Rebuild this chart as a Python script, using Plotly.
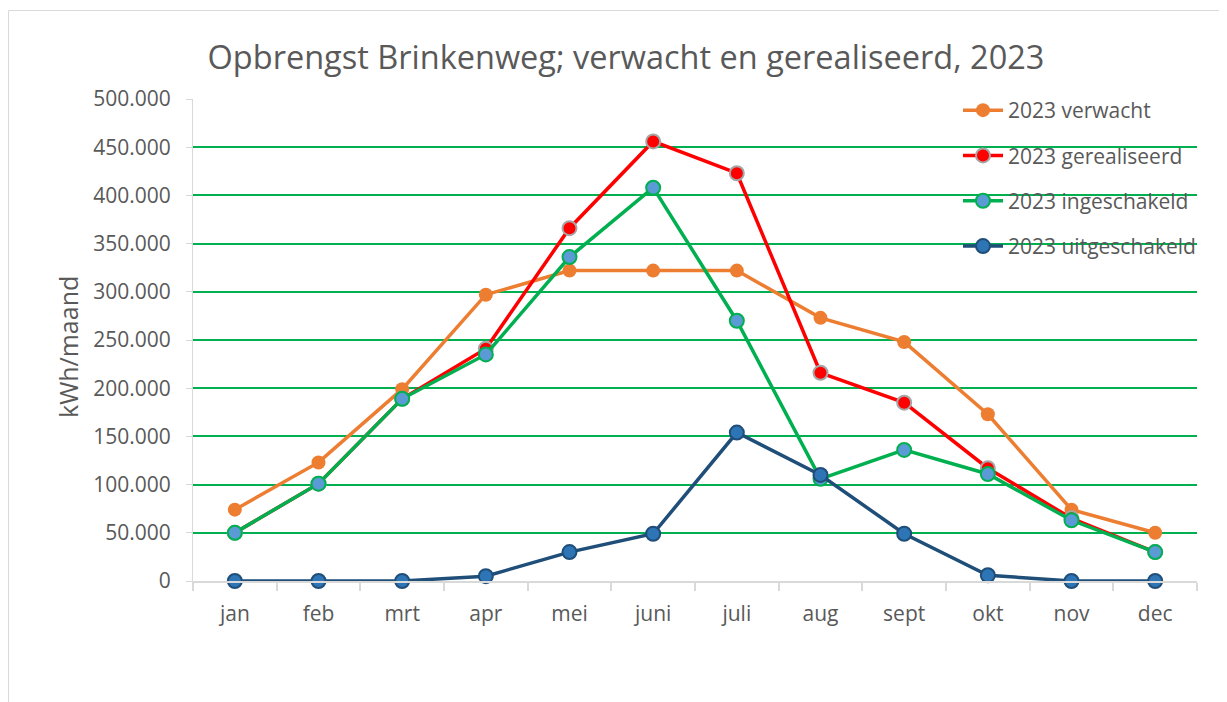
import plotly.graph_objects as go

months = ["jan", "feb", "mrt", "apr", "mei", "juni", "juli", "aug", "sept", "okt", "nov", "dec"]
verwacht = [74000, 123000, 199000, 297000, 322000, 322000, 322000, 273000, 248000, 173000, 74000, 50000]
gerealiseerd = [50000, 101000, 189000, 241000, 366000, 456000, 423000, 216000, 185000, 117000, 65000, 30000]
ingeschakeld = [50000, 101000, 189000, 235000, 336000, 408000, 270000, 106000, 136000, 111000, 63000, 30000]
uitgeschakeld = [0, 0, 0, 5000, 30000, 49000, 154000, 110000, 49000, 6000, 0, 0]
y_ticks = [0, 50000, 100000, 150000, 200000, 250000, 300000, 350000, 400000, 450000, 500000]

# page has an 8px body margin; work in page coordinates and convert
OFF = 8
W, H = 1227 - OFF, 702 - OFF
PL, PT, PR, PB = 193, 99, 1197, 581  # plot area in page coords
L, T = PL - OFF, PT - OFF
R = W - (PR - OFF)
B = H - (PB - OFF)
FONT = "Open Sans"
TXT = "#595959"

series = [
    ("2023 verwacht", verwacht, "#ED7D31", "#ED7D31", "#ED7D31", 0),
    ("2023 gerealiseerd", gerealiseerd, "#FF0000", "#FF0000", "#A6A6A6", 2),
    ("2023 ingeschakeld", ingeschakeld, "#00B050", "#5B9BD5", "#00B050", 2),
    ("2023 uitgeschakeld", uitgeschakeld, "#1F4E79", "#2E75B6", "#1F4E79", 2),
]

fig = go.Figure()
for i, (name, vals, lc, fc, mc, mw) in enumerate(series):
    fig.add_trace(go.Scatter(
        x=months, y=vals, name=name, mode="lines+markers",
        line=dict(color=lc, width=3.5),
        marker=dict(size=14, color=fc, line=dict(color=mc, width=mw)),
        legendgroup=f"g{i}", cliponaxis=False,
    ))

pw = PR - PL
ph = PB - PT


def px(xp):
    return (xp - PL) / pw


def py(yp):
    return (PB - yp) / ph


fig.update_layout(
    width=W, height=H,
    margin=dict(l=L, r=R, t=T, b=B, autoexpand=False),
    paper_bgcolor="white", plot_bgcolor="white",
    separators=",.",
    font=dict(family=FONT, color=TXT, size=21),
    title=dict(text="Opbrengst Brinkenweg; verwacht en gerealiseerd, 2023",
               x=(626 - OFF) / W, xanchor="center", xref="container",
               y=1 - (58 - OFF) / H, yanchor="middle", yref="container",
               font=dict(size=32.5, color=TXT, family=FONT)),
    showlegend=True,
    legend=dict(x=px(958), xanchor="left", y=py(90), yanchor="top",
                bgcolor="rgba(0,0,0,0)", font=dict(size=21, color=TXT),
                tracegroupgap=15, itemwidth=40),
    xaxis=dict(type="category", tickson="boundaries", showgrid=False,
               showline=True, linecolor="#D9D9D9", linewidth=2,
               ticks="outside", ticklen=8, tickcolor="#D9D9D9", tickwidth=2,
               ticklabelstandoff=13, tickfont=dict(size=21, color=TXT),
               range=[-0.5, 11.5]),
    yaxis=dict(range=[0, 500000], tickvals=y_ticks, tickformat=",.0f",
               showgrid=True, gridcolor="#00B050", gridwidth=2,
               zeroline=False, showline=True, linecolor="#D9D9D9", linewidth=1,
               ticks="outside", ticklen=6, tickcolor="#D9D9D9",
               ticklabelstandoff=11, tickfont=dict(size=21, color=TXT)),
    annotations=[dict(text="kWh/maand", textangle=-90, xref="paper", yref="paper",
                      x=px(68), y=py(347), xanchor="center", yanchor="middle",
                      showarrow=False, font=dict(size=25, color=TXT))],
    shapes=[dict(type="rect", xref="paper", yref="paper",
                 x0=px(8.5), x1=px(1240),
                 y0=py(720), y1=py(10.5),
                 line=dict(color="#D9D9D9", width=1), layer="below")],
)

fig.write_html("out.html")
